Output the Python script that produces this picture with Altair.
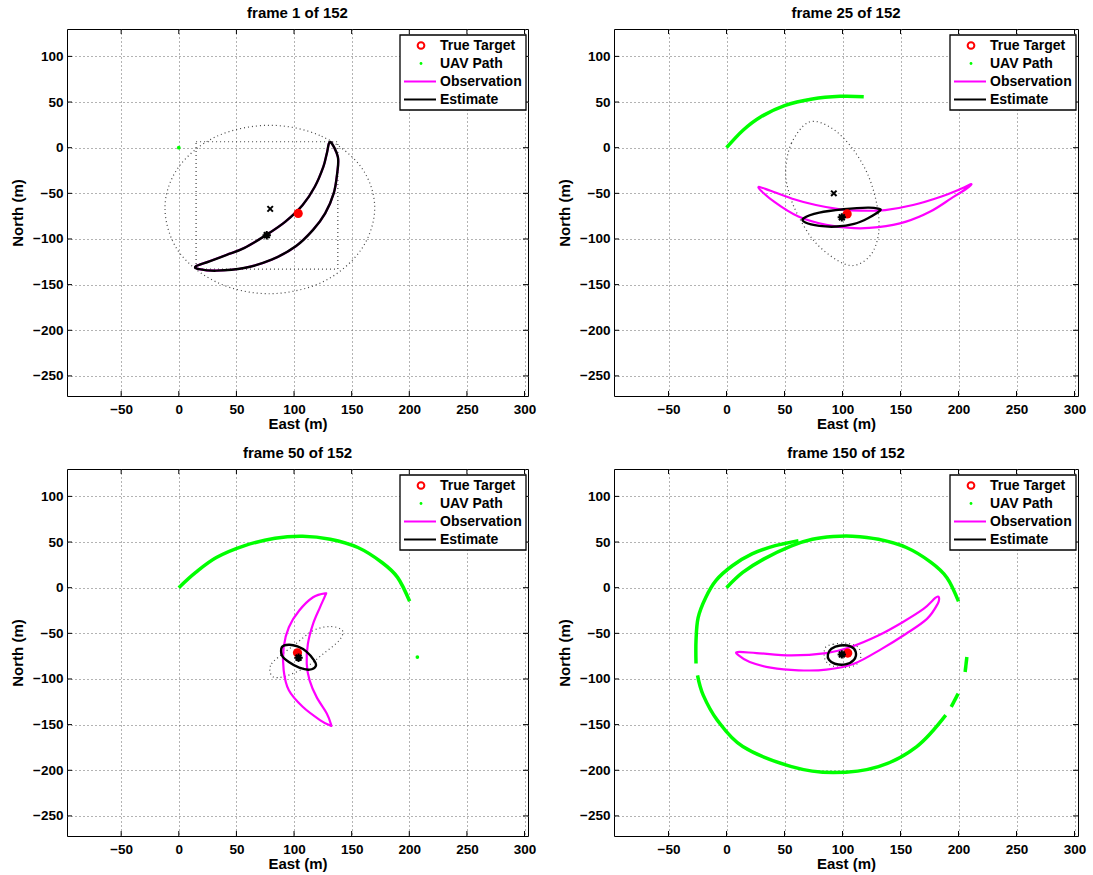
import altair as alt
import pandas as pd

X_DOMAIN = [-97, 303]
Y_DOMAIN = [-272, 130]
X_TICKS = [-50, 0, 50, 100, 150, 200, 250, 300]
Y_TICKS = [-250, -200, -150, -100, -50, 0, 50, 100]
TITLES = ["frame 1 of 152", "frame 25 of 152", "frame 50 of 152", "frame 150 of 152"]
LEGEND_LABELS = ["True Target", "UAV Path", "Observation", "Estimate"]

# ---------------- frame 1 ----------------
F1_OBS_X = [131.4, 138, 137.4, 134.4, 127, 116.5, 101.5, 80.5, 56.6, 32.6, 17.7, 14.7,
            26.6, 41.6, 56.6, 76, 92.5, 107.5, 118, 125.4, 128.4]
F1_OBS_Y = [6.2, -10, -28.3, -50, -72, -90, -108, -122.7, -131.8, -134.7, -133, -130,
            -124.5, -117.3, -110, -95.5, -81, -62.8, -42.8, -21, -6.5]
F1_EST_X = F1_OBS_X
F1_EST_Y = F1_OBS_Y
F1_COV_X = [79, 124, 158, 170, 158, 125, 79, 34, 0, -12, 0, 33]
F1_COV_Y = [24.5, 12.5, -21, -66, -112, -147, -160, -148, -114, -66, -21, 12.5]
F1_BOX_X = [15, 138, 138, 15]
F1_BOX_Y = [6.5, 6.5, -133, -133]
F1_UAV_DOT_X = [0]
F1_UAV_DOT_Y = [0]
F1_TARGET = (103.6, -72)
F1_XMARK = (79.3, -67)
F1_STAR = (76.3, -95.9)

# ---------------- frame 25 ----------------
F25_OBS_X = [27.5, 41, 62, 86, 110, 130.8, 154.8, 175.7, 193.7, 207, 211,
             202.7, 184.7, 160.8, 136.8, 115.9, 98, 77, 56, 38]
F25_OBS_Y = [-43.6, -59.2, -75.5, -84.6, -88.2, -87.1, -81, -70, -55.6, -44.7, -40,
             -44.7, -53.7, -62.8, -68.3, -69, -67.5, -62.8, -55.6, -47.2]
F25_EST_X = [66.5, 80, 101, 121.9, 130.8, 132.3, 121.9, 110, 95, 80, 68]
F25_EST_Y = [-77.3, -71.2, -67.5, -65.7, -66.8, -69, -77.3, -83.5, -86.4, -85.7, -82]
F25_COV_X = [71, 56, 51, 54, 62, 76, 95, 110, 124, 131, 130, 122, 108, 90]
F25_COV_Y = [28, 5, -25, -50, -75, -103, -123, -129, -118, -95, -65, -30, 0, 22]
F25_UAV_X = [[0, 14, 29, 50, 74, 98, 118.3]]
F25_UAV_Y = [[0, 18.9, 33.4, 46.1, 53.4, 56.3, 55.9]]
F25_TARGET = (104, -72.6)
F25_XMARK = (92.5, -50)
F25_STAR = (99.4, -76.3)

# ---------------- frame 50 ----------------
F50_OBS_X = [127, 116.5, 104.5, 95.5, 91, 91, 95.5, 107.5, 122.5, 131.4, 132,
             128.4, 119.5, 113.5, 111, 112, 116.5, 122.5, 127]
F50_OBS_Y = [-6.2, -10.5, -25, -43.3, -65, -90.5, -112.4, -130.5, -145, -151, -149.5,
             -137.8, -119.6, -101.5, -83.3, -61.5, -39.6, -21.5, -8.7]
F50_EST_X = [89.5, 95.5, 103, 110.5, 117.4, 118.9, 113.5, 104.5, 95.5, 89.5]
F50_EST_Y = [-65, -62.5, -64.4, -69.8, -79.6, -85.8, -89.8, -87.6, -81.5, -74.2]
F50_COV_X = [79, 80.5, 86.5, 101.5, 116.5, 131.4, 142, 139, 125.4, 110.5, 92.5, 82]
F50_COV_Y = [-90.5, -83.3, -76, -61.5, -47, -42.5, -47, -58, -72.4, -86.9, -97, -97.8]
F50_UAV_X = [[0, 14.7, 32.6, 56.6, 83.5, 107.5, 131.4, 155.4, 176.3, 189.8, 200.3]]
F50_UAV_Y = [[0, 16.7, 33, 45.8, 54.2, 56.4, 53.1, 44, 27.6, 11.3, -14.9]]
F50_UAV_DOT_X = [207]
F50_UAV_DOT_Y = [-76]
F50_TARGET = (103, -71.3)
F50_STAR = (103.9, -76.7)

# ---------------- frame 150 ----------------
F150_OBS_X = [9.6, 26, 56, 86, 107, 130.8, 151.8, 169.8, 180, 183, 182, 172.8, 154.8,
              133.8, 109.9, 86, 62, 38, 20, 10.5]
F150_OBS_Y = [-70.5, -71.6, -74.2, -71.6, -65, -52.4, -37.8, -23.3, -11.3, -10.5, -17.8,
              -34.2, -50.5, -67, -83.3, -89.8, -90.5, -87.6, -81.5, -74.2]
F150_EST_X = [87.4, 90.4, 97.9, 106.9, 111.4, 109.9, 102.4, 93.4, 88.3]
F150_EST_Y = [-73.1, -66.9, -63.3, -64.4, -70.5, -78.9, -84, -83.3, -78.9]
F150_COV_X = [85, 92, 104, 114, 115, 106, 92, 85]
F150_COV_Y = [-66, -62, -61, -66, -80, -87, -86, -79]
F150_UAV_X = [
    [0, 14, 32, 56, 74, 92, 108.4, 131, 155, 176, 190, 200],
    [207.2, 205.7],
    [199.7, 193.7],
    [189, 164, 131, 92, 56, 14, -8, -20, -25],
    [-26.3, -26.3, -24.5, -18, -9, 5, 22, 42, 62],
]
F150_UAV_Y = [
    [0, 16.7, 31.3, 45.8, 53, 56, 56.4, 53, 44, 28, 11, -15],
    [-76, -92.4],
    [-116, -130.5],
    [-139.6, -174, -196, -202.5, -196, -174, -145, -118, -96],
    [-83, -58, -33, -11, 8, 24, 37, 46, 51.5],
]
F150_TARGET = (104.5, -71.6)
F150_STAR = (99.4, -73.1)

FONT = "Liberation Sans"
GREEN = "#00ff00"
MAGENTA = "#ff00ff"
RED = "#ff0000"

XS = alt.Scale(domain=X_DOMAIN, nice=False, zero=False)
YS = alt.Scale(domain=Y_DOMAIN, nice=False, zero=False)


def enc_x():
    return alt.X("x:Q", scale=XS, title="East (m)",
                 axis=alt.Axis(values=X_TICKS, format="d"))


def enc_y():
    return alt.Y("y:Q", scale=YS, title="North (m)",
                 axis=alt.Axis(values=Y_TICKS, format="d"))


def poly_df(xs, ys):
    return pd.DataFrame({"x": xs, "y": ys, "i": list(range(len(xs)))})


def seg_df(xss, yss):
    rows = []
    for s, (xs, ys) in enumerate(zip(xss, yss)):
        for i, (a, b) in enumerate(zip(xs, ys)):
            rows.append({"x": a, "y": b, "i": i, "seg": s})
    return pd.DataFrame(rows)


ONE = pd.DataFrame({"k": [0]})


def panel(title, w, h, obs, est, cov, box, uav, dots, target, xmark, star):
    layers = []
    # grid / axes carrier
    layers.append(alt.Chart(poly_df([X_DOMAIN[0]], [Y_DOMAIN[0]])).mark_point(opacity=0)
                  .encode(x=enc_x(), y=enc_y()))
    # dotted uncertainty shapes
    layers.append(alt.Chart(poly_df(*cov)).mark_line(
        interpolate="cardinal-closed", strokeDash=[1, 3], color="#444", strokeWidth=1.2)
        .encode(x=enc_x(), y=enc_y(), order="i:Q"))
    if box is not None:
        layers.append(alt.Chart(poly_df(*box)).mark_line(
            interpolate="linear-closed", strokeDash=[1, 3], color="#444", strokeWidth=1.2)
            .encode(x=enc_x(), y=enc_y(), order="i:Q"))
    # UAV path
    if uav is not None:
        layers.append(alt.Chart(seg_df(*uav)).mark_line(color=GREEN, strokeWidth=3.5,
                                                        interpolate="cardinal")
                      .encode(x=enc_x(), y=enc_y(), detail="seg:N", order="i:Q"))
    if dots is not None:
        layers.append(alt.Chart(poly_df(*dots)).mark_circle(color=GREEN, size=14, opacity=1)
                      .encode(x=enc_x(), y=enc_y()))
    # observation and estimate
    layers.append(alt.Chart(poly_df(*obs)).mark_line(
        interpolate="cardinal-closed", color=MAGENTA, strokeWidth=2.2)
        .encode(x=enc_x(), y=enc_y(), order="i:Q"))
    layers.append(alt.Chart(poly_df(*est)).mark_line(
        interpolate="cardinal-closed", color="black", strokeWidth=2.4)
        .encode(x=enc_x(), y=enc_y(), order="i:Q"))
    # target
    layers.append(alt.Chart(poly_df([target[0]], [target[1]])).mark_circle(
        color=RED, size=85, opacity=1).encode(x=enc_x(), y=enc_y()))
    if xmark is not None:
        layers.append(alt.Chart(poly_df([xmark[0]], [xmark[1]])).mark_point(
            shape="M-1,-1L1,1M-1,1L1,-1", filled=False, color="black", strokeWidth=2,
            size=30, opacity=1).encode(x=enc_x(), y=enc_y()))
    if star is not None:
        sdf = poly_df([star[0]], [star[1]])
        layers.append(alt.Chart(sdf).mark_circle(color="black", size=35, opacity=1)
                      .encode(x=enc_x(), y=enc_y()))
        layers.append(alt.Chart(sdf).mark_point(
            shape="M-1,0L1,0M0,-1L0,1M-0.7,-0.7L0.7,0.7M-0.7,0.7L0.7,-0.7",
            filled=False, color="black", strokeWidth=2, size=70, opacity=1)
            .encode(x=enc_x(), y=enc_y()))
    # inward ticks (MATLAB box style)
    xt = pd.DataFrame({"x": X_TICKS})
    yt = pd.DataFrame({"y": Y_TICKS})
    layers.append(alt.Chart(xt).mark_rule(color="black", strokeWidth=1)
                  .encode(x=enc_x(), y=alt.value(h), y2=alt.value(h - 5)))
    layers.append(alt.Chart(xt).mark_rule(color="black", strokeWidth=1)
                  .encode(x=enc_x(), y=alt.value(0), y2=alt.value(5)))
    layers.append(alt.Chart(yt).mark_rule(color="black", strokeWidth=1)
                  .encode(y=enc_y(), x=alt.value(0), x2=alt.value(5)))
    layers.append(alt.Chart(yt).mark_rule(color="black", strokeWidth=1)
                  .encode(y=enc_y(), x=alt.value(w), x2=alt.value(w - 5)))
    # legend box
    lx0, lx1, ly0, ly1 = w - 128, w - 2, 6, 81
    layers.append(alt.Chart(ONE).mark_rect(fill="white", stroke="black", strokeWidth=1.3)
                  .encode(x=alt.value(lx0), x2=alt.value(lx1), y=alt.value(ly0), y2=alt.value(ly1)))
    rows_y = [16.5, 34.5, 52.5, 70.5]
    sym_x = lx0 + 21
    layers.append(alt.Chart(ONE).mark_point(shape="circle", filled=False, color=RED,
                                            strokeWidth=2, size=45, opacity=1)
                  .encode(x=alt.value(sym_x), y=alt.value(rows_y[0])))
    layers.append(alt.Chart(ONE).mark_circle(color=GREEN, size=8, opacity=1)
                  .encode(x=alt.value(sym_x), y=alt.value(rows_y[1])))
    layers.append(alt.Chart(ONE).mark_rule(color=MAGENTA, strokeWidth=2)
                  .encode(x=alt.value(lx0 + 4), x2=alt.value(lx0 + 36), y=alt.value(rows_y[2])))
    layers.append(alt.Chart(ONE).mark_rule(color="black", strokeWidth=2)
                  .encode(x=alt.value(lx0 + 4), x2=alt.value(lx0 + 36), y=alt.value(rows_y[3])))
    for lab, ry in zip(LEGEND_LABELS, rows_y):
        layers.append(alt.Chart(ONE).mark_text(align="left", baseline="middle", font=FONT,
                                               fontSize=14, fontWeight="bold", color="black")
                      .encode(x=alt.value(lx0 + 40), y=alt.value(ry), text=alt.value(lab)))
    return alt.layer(*layers).properties(width=w, height=h, title=title)


p1 = panel(TITLES[0], 461, 367, (F1_OBS_X, F1_OBS_Y), (F1_EST_X, F1_EST_Y),
           (F1_COV_X, F1_COV_Y), (F1_BOX_X, F1_BOX_Y), None,
           (F1_UAV_DOT_X, F1_UAV_DOT_Y), F1_TARGET, F1_XMARK, F1_STAR)
p2 = panel(TITLES[1], 464, 367, (F25_OBS_X, F25_OBS_Y), (F25_EST_X, F25_EST_Y),
           (F25_COV_X, F25_COV_Y), None, (F25_UAV_X, F25_UAV_Y), None,
           F25_TARGET, F25_XMARK, F25_STAR)
p3 = panel(TITLES[2], 461, 367, (F50_OBS_X, F50_OBS_Y), (F50_EST_X, F50_EST_Y),
           (F50_COV_X, F50_COV_Y), None, (F50_UAV_X, F50_UAV_Y),
           (F50_UAV_DOT_X, F50_UAV_DOT_Y), F50_TARGET, None, F50_STAR)
p4 = panel(TITLES[3], 464, 367, (F150_OBS_X, F150_OBS_Y), (F150_EST_X, F150_EST_Y),
           (F150_COV_X, F150_COV_Y), None, (F150_UAV_X, F150_UAV_Y), None,
           F150_TARGET, None, F150_STAR)

chart = alt.concat(p1, p2, p3, p4, columns=2, spacing={"row": 73, "column": 86},
                   bounds="flush").properties(
    padding={"left": 10, "top": 5, "right": 5, "bottom": 5},
    background="white",
).configure_axis(
    labelFont=FONT, labelFontSize=13.5, labelFontWeight="bold", labelColor="black",
    titleFont=FONT, titleFontSize=15, titleFontWeight="bold", titleColor="black",
    grid=True, gridColor="#666666", gridDash=[1, 3], gridWidth=1, gridOpacity=1,
    domain=False, ticks=False, tickSize=0,
).configure_axisX(labelPadding=6, titlePadding=1).configure_axisY(
    labelPadding=4, titlePadding=7
).configure_view(stroke="black", strokeWidth=1).configure_title(
    font=FONT, fontSize=15, fontWeight="bold", color="black", offset=8,
    frame="group", anchor="middle"
)

chart.save("out.html", embed_options={"renderer": "svg", "actions": False})
